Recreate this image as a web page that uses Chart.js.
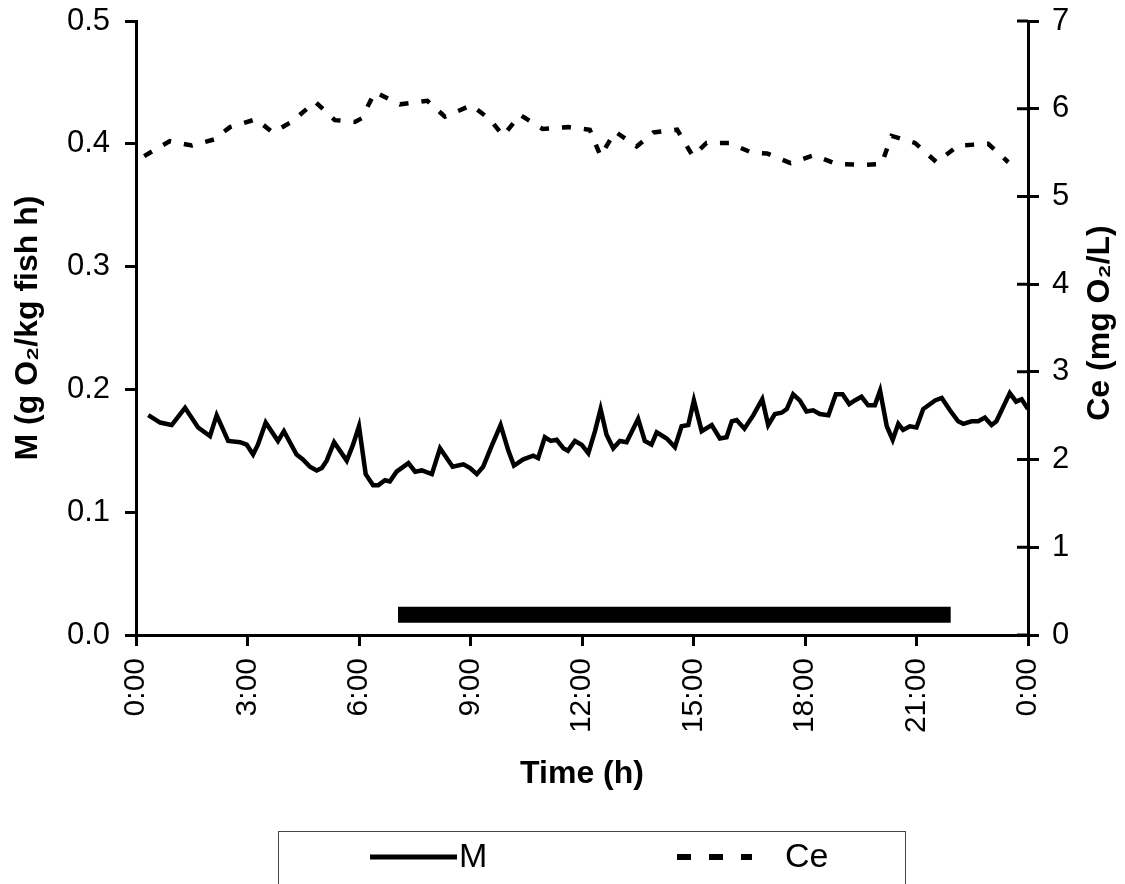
<!DOCTYPE html>
<html>
<head>
<meta charset="utf-8">
<script src="https://cdn.jsdelivr.net/npm/chart.js@4.4.1/dist/chart.umd.min.js"></script>
<style>
  body { margin: 0; background: #fff; }
  #wrap { width: 1125px; height: 884px; }
</style>
</head>
<body>
<div id="wrap"><canvas id="myChart" width="1125" height="884"></canvas></div>
<script>
// M: metabolic rate (g O2/kg fish h), times in hours
const mTimes = [0.33, 0.65, 0.96, 1.32, 1.67, 1.99, 2.17, 2.48, 2.80, 2.98, 3.15, 3.28, 3.49, 3.82, 3.98,
  4.32, 4.49, 4.68, 4.86, 5.00, 5.13, 5.33, 5.67, 5.84, 6.00, 6.18, 6.38, 6.52, 6.70, 6.83, 7.01,
  7.33, 7.51, 7.69, 7.96, 8.18, 8.52, 8.81, 8.99, 9.17, 9.34, 9.57, 9.81, 10.02, 10.17, 10.42,
  10.69, 10.82, 11.00, 11.16, 11.32, 11.50, 11.62, 11.81, 11.99, 12.17, 12.35, 12.50, 12.66, 12.84,
  13.02, 13.20, 13.51, 13.69, 13.87, 14.01, 14.28, 14.50, 14.68, 14.86, 15.01, 15.22, 15.49, 15.71,
  15.89, 16.03, 16.16, 16.37, 16.61, 16.85, 17.01, 17.19, 17.37, 17.51, 17.68, 17.86, 18.04, 18.22,
  18.40, 18.63, 18.83, 19.01, 19.19, 19.34, 19.52, 19.70, 19.88, 20.02, 20.20, 20.36, 20.51, 20.64,
  20.82, 21.00, 21.18, 21.50, 21.68, 21.90, 22.12, 22.26, 22.48, 22.66, 22.84, 23.02, 23.15, 23.51,
  23.68, 23.83, 24.00];
const mValues = [0.179, 0.173, 0.171, 0.185, 0.169, 0.162, 0.179, 0.158, 0.157, 0.155, 0.147, 0.155, 0.173, 0.158, 0.166,
  0.147, 0.143, 0.137, 0.134, 0.136, 0.142, 0.157, 0.142, 0.155, 0.170, 0.131, 0.122, 0.122, 0.126, 0.125, 0.133,
  0.140, 0.133, 0.134, 0.131, 0.152, 0.137, 0.139, 0.136, 0.131, 0.137, 0.154, 0.171, 0.150, 0.138, 0.143,
  0.146, 0.144, 0.161, 0.158, 0.159, 0.152, 0.150, 0.158, 0.155, 0.148, 0.166, 0.184, 0.163, 0.152,
  0.158, 0.157, 0.176, 0.158, 0.155, 0.165, 0.160, 0.153, 0.170, 0.171, 0.191, 0.166, 0.171, 0.160,
  0.161, 0.174, 0.175, 0.168, 0.179, 0.192, 0.171, 0.180, 0.181, 0.184, 0.196, 0.191, 0.182, 0.183,
  0.180, 0.179, 0.196, 0.196, 0.188, 0.191, 0.194, 0.187, 0.187, 0.199, 0.170, 0.159, 0.172, 0.167,
  0.170, 0.169, 0.184, 0.191, 0.193, 0.183, 0.174, 0.172, 0.174, 0.174, 0.177, 0.171, 0.174, 0.197,
  0.190, 0.192, 0.184];

// Ce: oxygen concentration (mg O2/L)
const ceTimes = [0.22, 0.91, 1.50, 2.10, 2.53, 3.23, 3.68, 4.19, 4.82, 5.35, 5.89, 6.07, 6.43, 7.10, 7.84,
  8.31, 9.03, 9.52, 9.88, 10.33, 10.94, 11.63, 12.21, 12.50, 12.89, 13.47, 13.92, 14.56, 14.98, 15.35,
  15.96, 16.56, 16.98, 17.61, 18.24, 18.85, 19.55, 20.06, 20.33, 20.96, 21.54, 22.12, 22.93, 23.47];
const ceValues = [5.46, 5.63, 5.58, 5.65, 5.79, 5.88, 5.73, 5.85, 6.08, 5.87, 5.85, 5.89, 6.19, 6.05, 6.09,
  5.91, 6.04, 5.88, 5.69, 5.93, 5.77, 5.79, 5.76, 5.46, 5.74, 5.57, 5.73, 5.76, 5.46, 5.61,
  5.61, 5.50, 5.49, 5.38, 5.47, 5.37, 5.36, 5.37, 5.69, 5.61, 5.39, 5.58, 5.60, 5.39];

// light period bar (hours) drawn near the bottom of the M axis
const lightPeriod = [7.05, 21.92];
const lightLevel = 0.0165;

const xTicks = [0, 3, 6, 9, 12, 15, 18, 21, 24];

const FONT = "'Liberation Sans', Arial, sans-serif";
Chart.defaults.font.family = FONT;
Chart.defaults.color = '#000';

function pts(xs, ys) {
    return xs.map((x, i) => ({ x: x, y: ys[i] }));
}

// fixed axis sizes so the plot area sits where the original one does
function fitY(width) {
    return (s) => {
        s.width = width;
        s.paddingTop = 0;
        s.paddingBottom = 0;
    };
}

const legendBox = {
    id: 'legendBox',
    afterDraw(chart) {
        const ctx = chart.ctx;
        const ds = chart.data.datasets;
        ctx.save();
        // box
        ctx.strokeStyle = '#444';
        ctx.lineWidth = 1;
        ctx.strokeRect(278.5, 831.5, 627, 60);
        // M
        ctx.strokeStyle = '#000';
        ctx.lineWidth = 5;
        ctx.beginPath();
        ctx.moveTo(370, 857);
        ctx.lineTo(457, 857);
        ctx.stroke();
        // Ce
        ctx.setLineDash([14, 18]);
        ctx.lineWidth = 6;
        ctx.beginPath();
        ctx.moveTo(677, 857);
        ctx.lineTo(752, 857);
        ctx.stroke();
        ctx.setLineDash([]);
        ctx.fillStyle = '#000';
        ctx.font = '34px ' + FONT;
        ctx.textBaseline = 'middle';
        ctx.textAlign = 'left';
        ctx.fillText(ds[0].label, 459, 858);
        ctx.fillText(ds[1].label, 785, 858);

        // right axis: ticks crossing the axis line, and title reading upwards
        const y2 = chart.scales.y2;
        ctx.lineWidth = 3;
        ctx.beginPath();
        y2.ticks.forEach(t => {
            const py = y2.getPixelForValue(t.value);
            ctx.moveTo(y2.left - 11, py);
            ctx.lineTo(y2.left, py);
        });
        ctx.stroke();
        ctx.translate(1100, 323);
        ctx.rotate(-Math.PI / 2);
        ctx.font = 'bold 32px ' + FONT;
        ctx.textAlign = 'center';
        ctx.fillText('Ce (mg O\u2082/L)', 0, 0);
        ctx.restore();
    }
};

const ctx = document.getElementById('myChart').getContext('2d');
new Chart(ctx, {
    type: 'line',
    data: {
        datasets: [{
            label: 'M',
            data: pts(mTimes, mValues),
            yAxisID: 'y',
            borderColor: '#000',
            borderWidth: 4.5,
            tension: 0,
            pointRadius: 0
        }, {
            label: 'Ce',
            data: pts(ceTimes, ceValues),
            yAxisID: 'y2',
            borderColor: '#000',
            borderWidth: 4.5,
            borderDash: [9, 13],
            tension: 0,
            pointRadius: 0
        }, {
            label: 'light',
            data: lightPeriod.map(x => ({ x: x, y: lightLevel })),
            yAxisID: 'y',
            borderColor: '#000',
            borderWidth: 16,
            borderCapStyle: 'butt',
            pointRadius: 0
        }]
    },
    options: {
        responsive: false,
        animation: false,
        layout: { padding: { top: 21, left: 0, right: 0, bottom: 0 } },
        plugins: {
            legend: { display: false },
            tooltip: { enabled: false }
        },
        scales: {
            x: {
                type: 'linear',
                min: 0,
                max: 24,
                afterFit: (s) => { s.height = 249; },
                afterBuildTicks: (s) => { s.ticks = xTicks.map(v => ({ value: v })); },
                border: { color: '#000', width: 3 },
                grid: { drawOnChartArea: false, color: '#000', lineWidth: 3, tickLength: 11 },
                ticks: {
                    minRotation: 90,
                    maxRotation: 90,
                    padding: 12,
                    font: { size: 30 },
                    callback: (v) => (v % 24) + ':00'
                },
                title: {
                    display: true,
                    text: 'Time (h)',
                    font: { size: 32, weight: 'bold' },
                    padding: { top: 0, bottom: 91 }
                }
            },
            y: {
                position: 'left',
                min: 0,
                max: 0.5,
                afterFit: fitY(136),
                border: { color: '#000', width: 3 },
                grid: { drawOnChartArea: false, color: '#000', lineWidth: 3, tickLength: 11 },
                ticks: {
                    stepSize: 0.1,
                    padding: 15,
                    font: { size: 31 },
                    callback: (v) => v.toFixed(1)
                },
                title: {
                    display: true,
                    text: 'M (g O\u2082/kg fish h)',
                    font: { size: 32, weight: 'bold' },
                    padding: { top: 9, bottom: 0 }
                }
            },
            y2: {
                position: 'right',
                min: 0,
                max: 7,
                afterFit: fitY(97),
                border: { color: '#000', width: 3 },
                grid: { drawOnChartArea: false, color: '#000', lineWidth: 3, tickLength: 11 },
                ticks: {
                    stepSize: 1,
                    padding: 13,
                    font: { size: 31 }
                }
            }
        }
    },
    plugins: [legendBox]
});
</script>
</body>
</html>
